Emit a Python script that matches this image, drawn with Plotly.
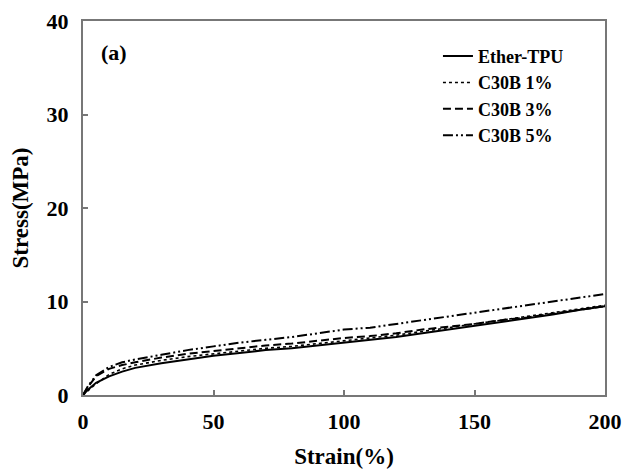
import plotly.graph_objects as go

# Stress-strain curves for ether-based TPU and its C30B nanocomposites
strain = [0, 2, 5, 10, 15, 20, 30, 40, 50, 60, 70, 80, 90, 100,
          110, 120, 130, 140, 150, 160, 170, 180, 190, 200]

ether_tpu = [0, 0.6, 1.3, 2.0, 2.5, 2.9, 3.4, 3.8, 4.2, 4.5, 4.8, 5.0, 5.3, 5.6,
             5.9, 6.2, 6.6, 7.0, 7.4, 7.8, 8.2, 8.6, 9.1, 9.5]
c30b_1 = [0, 0.5, 1.2, 2.2, 2.8, 3.2, 3.7, 4.1, 4.4, 4.7, 5.0, 5.2, 5.5, 5.8,
          6.1, 6.4, 6.8, 7.2, 7.6, 8.0, 8.4, 8.8, 9.2, 9.6]
c30b_3 = [0, 0.9, 2.0, 2.8, 3.2, 3.5, 4.0, 4.4, 4.7, 5.0, 5.3, 5.5, 5.8, 6.1,
          6.3, 6.6, 7.0, 7.3, 7.6, 8.0, 8.3, 8.7, 9.1, 9.5]
c30b_5 = [0, 1.0, 2.1, 3.0, 3.5, 3.8, 4.3, 4.8, 5.2, 5.6, 5.9, 6.2, 6.6, 7.0,
          7.2, 7.6, 8.0, 8.4, 8.8, 9.2, 9.6, 10.0, 10.4, 10.8]

series_names = ["Ether-TPU", "C30B 1%", "C30B 3%", "C30B 5%"]
series_values = [ether_tpu, c30b_1, c30b_3, c30b_5]
dash_styles = ["solid", "dot", "8px,4px", "10px,3px,2px,3px,2px,3px"]
line_widths = [2, 1.6, 2, 2]

x_ticks = [0, 50, 100, 150, 200]
y_ticks = [0, 10, 20, 30, 40]

FONT = "Liberation Serif, Times New Roman, serif"
AXIS_COLOR = "#777777"

fig = go.Figure()
for name, vals, dash, w in zip(series_names, series_values, dash_styles, line_widths):
    fig.add_trace(go.Scatter(
        x=strain, y=vals, mode="lines", name=name,
        line=dict(color="black", width=w, dash=dash),
    ))

axis_common = dict(
    showline=True, linecolor=AXIS_COLOR, linewidth=2, mirror=True,
    ticks="inside", ticklen=5, tickwidth=1.5, tickcolor=AXIS_COLOR,
    showgrid=False, zeroline=False, automargin=False,
    tickfont=dict(family=FONT, size=22, color="black", weight="bold"),
)

fig.update_layout(
    width=625, height=472,
    margin=dict(l=83, r=20, t=21, b=77),
    paper_bgcolor="white", plot_bgcolor="white",
    font=dict(family=FONT, color="black"),
    xaxis=dict(
        range=[0, 200], tickvals=x_ticks, ticklabelstandoff=6,
        title=dict(text="Strain(%)", standoff=14,
                   font=dict(family=FONT, size=23, weight="bold")),
        **axis_common,
    ),
    yaxis=dict(
        range=[0, 40], tickvals=y_ticks, ticklabelstandoff=8,
        title=dict(text="Stress(MPa)", standoff=12,
                   font=dict(family=FONT, size=23, weight="bold")),
        **axis_common,
    ),
    legend=dict(
        x=0.68, y=0.955, xanchor="left", yanchor="top",
        bgcolor="rgba(0,0,0,0)", borderwidth=0,
        font=dict(family=FONT, size=18, color="black", weight="bold"),
    ),
    annotations=[dict(
        text="(a)", xref="paper", yref="paper", x=0.03, y=0.915,
        xanchor="left", yanchor="middle", showarrow=False,
        font=dict(family=FONT, size=22, color="black", weight="bold"),
    )],
)

fig.write_html("out.html")
